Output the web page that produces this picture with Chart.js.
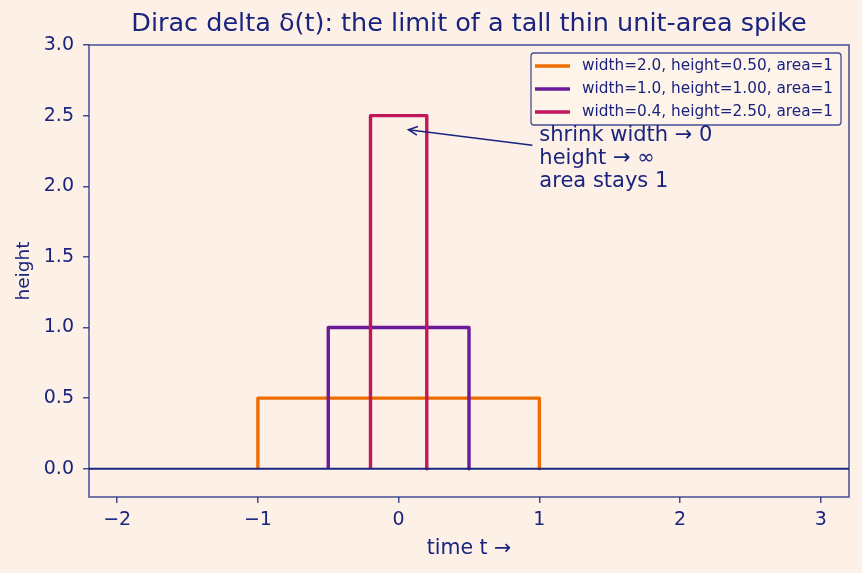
<!DOCTYPE html>
<html>
<head>
<meta charset="utf-8">
<script src="https://cdn.jsdelivr.net/npm/chart.js@4/dist/chart.umd.min.js"></script>
<style>
  body { margin: 0; background: #fdf1e7; }
  canvas { display: block; }
</style>
</head>
<body>
<canvas id="graph" width="862" height="573"></canvas>
<script>
// pulse corners (t, height) for each width
var wideT = [-1, -1, 1, 1];
var wideH = [0, 0.5, 0.5, 0];
var midT = [-0.5, -0.5, 0.5, 0.5];
var midH = [0, 1, 1, 0];
var thinT = [-0.2, -0.2, 0.2, 0.2];
var thinH = [0, 2.5, 2.5, 0];
var baseT = [-2.2, 3.2];
var baseH = [0, 0];

var labels = ["width=2.0, height=0.50, area=1", "width=1.0, height=1.00, area=1", "width=0.4, height=2.50, area=1"];
var colors = ["#ef6c00", "#6a1b9a", "#c2185b"];
var xTicks = [-2, -1, 0, 1, 2, 3];
var yTicks = [0, 0.5, 1, 1.5, 2, 2.5, 3];
var noteLines = ["shrink width \u2192 0", "height \u2192 \u221e", "area stays 1"];
var noteAt = [1.0, 2.0];
var arrowTip = [0.07, 2.4];

var navy = "#1a237e";
var frame = "rgba(26,35,126,0.8)";
var font = "'DejaVu Sans', sans-serif";

function pts(xs, ys) {
  var out = [];
  for (let i = 0; i < xs.length; i++) out.push({ x: xs[i], y: ys[i] });
  return out;
}

var extras = {
  id: "extras",
  afterDraw: function (chart) {
    var c = chart.ctx, a = chart.chartArea;
    var sx = chart.scales.x, sy = chart.scales.y;
    c.save();
    // frame
    c.strokeStyle = frame;
    c.lineWidth = 1.5;
    c.strokeRect(a.left, a.top, a.right - a.left, a.bottom - a.top);
    // title
    c.fillStyle = navy;
    c.textAlign = "center";
    c.textBaseline = "middle";
    c.font = "25.5px " + font;
    c.fillText("Dirac delta \u03b4(t): the limit of a tall thin unit-area spike", (a.left + a.right) / 2, 24);
    // axis titles
    c.font = "20.5px " + font;
    c.fillText("time t \u2192", (a.left + a.right) / 2, 549);
    c.font = "18.5px " + font;
    c.save();
    c.translate(24, (a.top + a.bottom) / 2);
    c.rotate(-Math.PI / 2);
    c.fillText("height", 0, 0);
    c.restore();
    // legend
    var lx = 531, ly = 53, lw = 310, lh = 72;
    c.beginPath();
    c.roundRect(lx, ly, lw, lh, 3);
    c.fillStyle = "rgba(255,245,235,0.8)";
    c.fill();
    c.strokeStyle = frame;
    c.lineWidth = 1.3;
    c.stroke();
    c.textAlign = "left";
    c.font = "15.3px " + font;
    for (let i = 0; i < labels.length; i++) {
      var yy = 66 + i * 23;
      c.strokeStyle = colors[i];
      c.lineWidth = 3.4;
      c.beginPath();
      c.moveTo(535, yy);
      c.lineTo(570, yy);
      c.stroke();
      c.fillStyle = navy;
      c.fillText(labels[i], 582, yy);
    }
    // annotation
    var tx = sx.getPixelForValue(noteAt[0]);
    var ty = sy.getPixelForValue(noteAt[1]);
    c.font = "21px " + font;
    c.textBaseline = "alphabetic";
    c.fillStyle = navy;
    for (let i = 0; i < noteLines.length; i++) {
      c.fillText(noteLines[i], tx, ty + 1 - (noteLines.length - 1 - i) * 23);
    }
    var px = sx.getPixelForValue(arrowTip[0]);
    var py = sy.getPixelForValue(arrowTip[1]);
    var qx = tx - 7, qy = ty - 41;
    c.strokeStyle = navy;
    c.lineWidth = 1.6;
    c.beginPath();
    c.moveTo(qx, qy);
    c.lineTo(px, py);
    c.stroke();
    var ang = Math.atan2(py - qy, px - qx);
    c.beginPath();
    c.moveTo(px - 10 * Math.cos(ang - 0.45), py - 10 * Math.sin(ang - 0.45));
    c.lineTo(px, py);
    c.lineTo(px - 10 * Math.cos(ang + 0.45), py - 10 * Math.sin(ang + 0.45));
    c.stroke();
    c.restore();
  }
};

function lineSet(label, xs, ys, color, order, width) {
  return {
    label: label,
    data: pts(xs, ys),
    borderColor: color,
    borderWidth: width,
    pointRadius: 0,
    fill: false,
    tension: 0,
    borderJoinStyle: "round",
    order: order
  };
}

var data = {
  datasets: [
    lineSet("zero", baseT, baseH, navy, 0, 1.8),
    lineSet(labels[2], thinT, thinH, colors[2], 1, 3.4),
    lineSet(labels[1], midT, midH, colors[1], 2, 3.4),
    lineSet(labels[0], wideT, wideH, colors[0], 3, 3.4)
  ]
};

var tickFont = { family: font, size: 19 };

var options = {
  responsive: false,
  animation: false,
  layout: { padding: { top: 45, right: 13, left: 0, bottom: 0 } },
  plugins: { legend: { display: false }, tooltip: { enabled: false } },
  scales: {
    x: {
      type: "linear",
      min: -2.2,
      max: 3.2,
      afterFit: function (s) { s.height = 76; },
      afterBuildTicks: function (s) { s.ticks = xTicks.map(function (v) { return { value: v }; }); },
      ticks: {
        color: navy,
        font: tickFont,
        padding: 6,
        maxRotation: 0,
        callback: function (v) { return v < 0 ? "\u2212" + Math.abs(v) : String(v); }
      },
      grid: { drawOnChartArea: false, drawTicks: true, tickLength: 6, color: frame, lineWidth: 1.5 },
      border: { display: false }
    },
    y: {
      min: -0.2,
      max: 3.0,
      afterFit: function (s) { s.width = 89; },
      afterBuildTicks: function (s) { s.ticks = yTicks.map(function (v) { return { value: v }; }); },
      ticks: {
        color: navy,
        font: tickFont,
        padding: 9,
        callback: function (v) { return v.toFixed(1); }
      },
      grid: { drawOnChartArea: false, drawTicks: true, tickLength: 6, color: frame, lineWidth: 1.5 },
      border: { display: false }
    }
  }
};

var ctx = document.getElementById("graph").getContext("2d");
var graph = new Chart(ctx, { type: "line", data: data, options: options, plugins: [extras] });
</script>
</body>
</html>
